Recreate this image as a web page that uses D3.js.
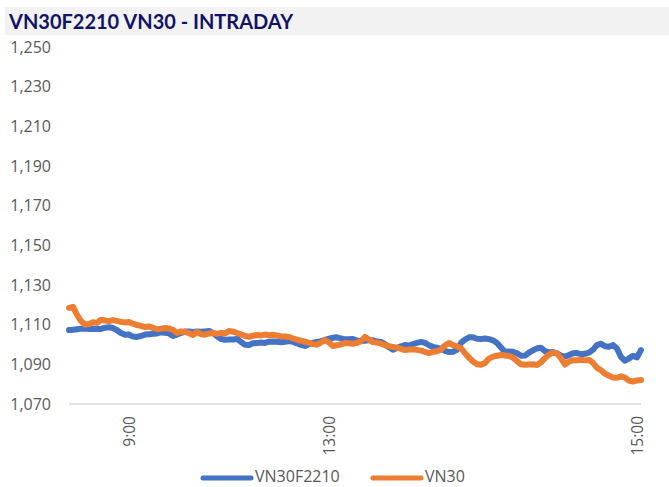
<!DOCTYPE html>
<html>
<head>
<meta charset="utf-8">
<script src="https://cdn.jsdelivr.net/npm/d3@7"></script>
<style>
  body { margin: 0; background: #fff; }
  svg { display: block; font-family: "Open Sans", "Liberation Sans", sans-serif; }
</style>
</head>
<body>
<div id="chart"></div>
<script>
// chart data
var title = 'VN30F2210 VN30 - INTRADAY';
var seriesNames = ['VN30F2210', 'VN30'];

// VN30F2210 (futures) intraday prints
var vn30f = [
  1107.3, 1107.4, 1107.7, 1108.0, 1108.0, 1107.8, 1107.9, 1107.8, 1107.8, 1108.5,
  1108.7, 1108.3, 1107.2, 1105.8, 1104.9, 1105.0, 1104.0, 1103.8, 1104.3, 1105.0,
  1105.2, 1105.4, 1105.6, 1106.2, 1105.9, 1105.6, 1104.3, 1105.0, 1105.8, 1106.5,
  1106.6, 1106.3, 1106.5, 1106.4, 1106.6, 1106.8, 1105.8, 1104.2, 1102.8, 1102.4,
  1102.5, 1102.5, 1102.8, 1101.3, 1099.9, 1099.7, 1100.6, 1100.8, 1101.0, 1100.8,
  1101.4, 1101.5, 1101.4, 1101.1, 1101.4, 1101.7, 1101.3, 1100.6, 1099.8, 1099.3,
  1100.2, 1100.9, 1101.3, 1101.6, 1102.3, 1102.9, 1103.4, 1103.6, 1103.0, 1102.6,
  1102.6, 1102.8, 1102.0, 1101.8, 1101.9, 1102.2, 1102.1, 1101.5, 1101.3, 1100.2,
  1098.6, 1097.4, 1098.2, 1099.1, 1099.7, 1099.5, 1100.2, 1100.8, 1101.3, 1100.8,
  1099.6, 1098.8, 1098.4, 1097.8, 1096.8, 1096.2, 1096.4, 1097.3, 1100.8, 1102.5,
  1103.6, 1103.6, 1102.9, 1102.8, 1103.0, 1102.7, 1102.1, 1100.8, 1098.5, 1096.2,
  1096.5, 1096.3, 1095.6, 1094.3, 1094.4, 1095.9, 1097.0, 1098.1, 1098.4, 1096.6,
  1096.0, 1096.2, 1095.5, 1094.4, 1093.9, 1094.7, 1095.6, 1095.7, 1095.1, 1095.3,
  1095.9, 1097.4, 1099.7, 1100.4, 1099.1, 1098.9, 1099.7, 1098.0, 1093.7, 1091.8,
  1093.0, 1094.3, 1093.5, 1097.2
];

// VN30 index intraday prints
var vn30 = [
  1118.5, 1119.0, 1115.0, 1111.8, 1110.0, 1110.3, 1111.2, 1110.9, 1112.5, 1112.1,
  1111.8, 1112.3, 1111.9, 1111.4, 1111.1, 1111.3, 1110.5, 1109.8, 1109.4, 1108.8,
  1109.1, 1108.4, 1107.7, 1107.9, 1108.3, 1108.1, 1107.4, 1105.8, 1106.6, 1106.4,
  1105.7, 1104.8, 1106.3, 1105.2, 1104.9, 1105.6, 1105.8, 1105.4, 1105.9, 1105.5,
  1106.8, 1106.5, 1105.8, 1105.1, 1104.3, 1103.9, 1104.4, 1104.8, 1104.6, 1105.0,
  1104.7, 1104.9, 1104.5, 1104.2, 1104.0, 1103.8, 1103.0, 1102.4, 1101.9, 1101.4,
  1100.8, 1100.2, 1099.9, 1101.0, 1102.2, 1101.0, 1099.2, 1099.6, 1100.1, 1100.7,
  1100.6, 1100.4, 1100.8, 1101.6, 1103.8, 1102.5, 1101.2, 1101.0, 1100.4, 1099.7,
  1099.1, 1098.8, 1098.4, 1097.8, 1097.2, 1097.5, 1097.6, 1097.3, 1096.9, 1096.3,
  1095.7, 1096.3, 1096.6, 1097.5, 1099.5, 1100.8, 1099.7, 1099.0, 1098.2, 1095.6,
  1093.3, 1091.4, 1090.0, 1089.8, 1090.7, 1092.9, 1093.9, 1094.3, 1094.7, 1094.5,
  1094.2, 1093.4, 1091.6, 1090.0, 1089.8, 1089.9, 1090.0, 1089.7, 1091.0, 1093.2,
  1095.0, 1095.8, 1095.5, 1093.0, 1089.9, 1091.4, 1092.1, 1092.0, 1092.3, 1092.0,
  1092.2, 1090.8, 1088.2, 1087.0, 1085.2, 1084.3, 1083.3, 1083.2, 1084.0, 1083.3,
  1081.8, 1081.3, 1081.9, 1082.1
];

// time labels and the print they sit on
var timeLabels = ['9:00', '13:00', '15:00'];
var timeIndex = [15, 65, 142];

var yTicks = [1070, 1090, 1110, 1130, 1150, 1170, 1190, 1210, 1230, 1250];

var width = 669, height = 487;
var margin = { top: 47, right: 28, bottom: 83, left: 69 };
var colors = ['#4472C4', '#ED7D31'];

var svg = d3.select('#chart')
  .append('svg')
  .attr('width', width)
  .attr('height', height);

// title bar
svg.append('rect')
  .attr('x', 5)
  .attr('y', 7)
  .attr('width', width - 5)
  .attr('height', 28)
  .attr('fill', '#f2f2f2');

svg.append('text')
  .attr('x', 9)
  .attr('y', 29)
  .attr('fill', '#12126b')
  .attr('font-size', 20)
  .attr('font-weight', 'bold')
  .attr('font-family', 'Lato, "Open Sans", sans-serif')
  .text(title);

var x = d3.scaleLinear()
  .domain([0, vn30.length - 1])
  .range([margin.left, width - margin.right]);

var y = d3.scaleLinear()
  .domain([1070, 1250])
  .range([height - margin.bottom, margin.top]);

// y axis labels only, no line
var yAxis = svg.append('g')
  .attr('transform', 'translate(' + (margin.left - 18) + ',0)')
  .call(d3.axisLeft(y).tickValues(yTicks).tickSize(0).tickPadding(0).tickFormat(d3.format(',')));
yAxis.select('.domain').remove();
yAxis.selectAll('text')
  .attr('fill', '#595959')
  .attr('font-size', 16)
  .attr('font-family', '"Open Sans", sans-serif');

// x axis baseline
svg.append('line')
  .attr('x1', x(0))
  .attr('x2', x(vn30.length - 1))
  .attr('y1', y(1070))
  .attr('y2', y(1070))
  .attr('stroke', '#d9d9d9')
  .attr('stroke-width', 1.5);

var xAxis = svg.append('g')
  .attr('transform', 'translate(0,' + y(1070) + ')')
  .call(d3.axisBottom(x).tickValues(timeIndex).tickSize(0)
    .tickFormat(function(d, i) { return timeLabels[i]; }));
xAxis.select('.domain').remove();
xAxis.selectAll('text')
  .attr('fill', '#595959')
  .attr('font-size', 15.5)
  .attr('font-family', '"Open Sans", sans-serif')
  .attr('text-anchor', 'end')
  .attr('dy', '0.35em')
  .attr('transform', 'translate(0,12) rotate(-90)')
  .attr('x', 0)
  .attr('y', 0);

var line = d3.line()
  .x(function(d, i) { return x(i); })
  .y(function(d) { return y(d); });

[vn30f, vn30].forEach(function(s, k) {
  svg.append('path')
    .datum(s)
    .attr('fill', 'none')
    .attr('stroke', colors[k])
    .attr('stroke-width', 6)
    .attr('stroke-linejoin', 'round')
    .attr('stroke-linecap', 'round')
    .attr('d', line);
});

// legend
var legendX = [203, 373];
var legend = svg.append('g');
seriesNames.forEach(function(name, k) {
  legend.append('line')
    .attr('x1', legendX[k])
    .attr('x2', legendX[k] + 48)
    .attr('y1', 478)
    .attr('y2', 478)
    .attr('stroke', colors[k])
    .attr('stroke-width', 5)
    .attr('stroke-linecap', 'round');
  legend.append('text')
    .attr('x', legendX[k] + 52)
    .attr('y', 476)
    .attr('dy', '0.35em')
    .attr('fill', '#595959')
    .attr('font-size', 16)
    .attr('font-family', '"Open Sans", sans-serif')
    .text(name);
});
</script>
</body>
</html>
